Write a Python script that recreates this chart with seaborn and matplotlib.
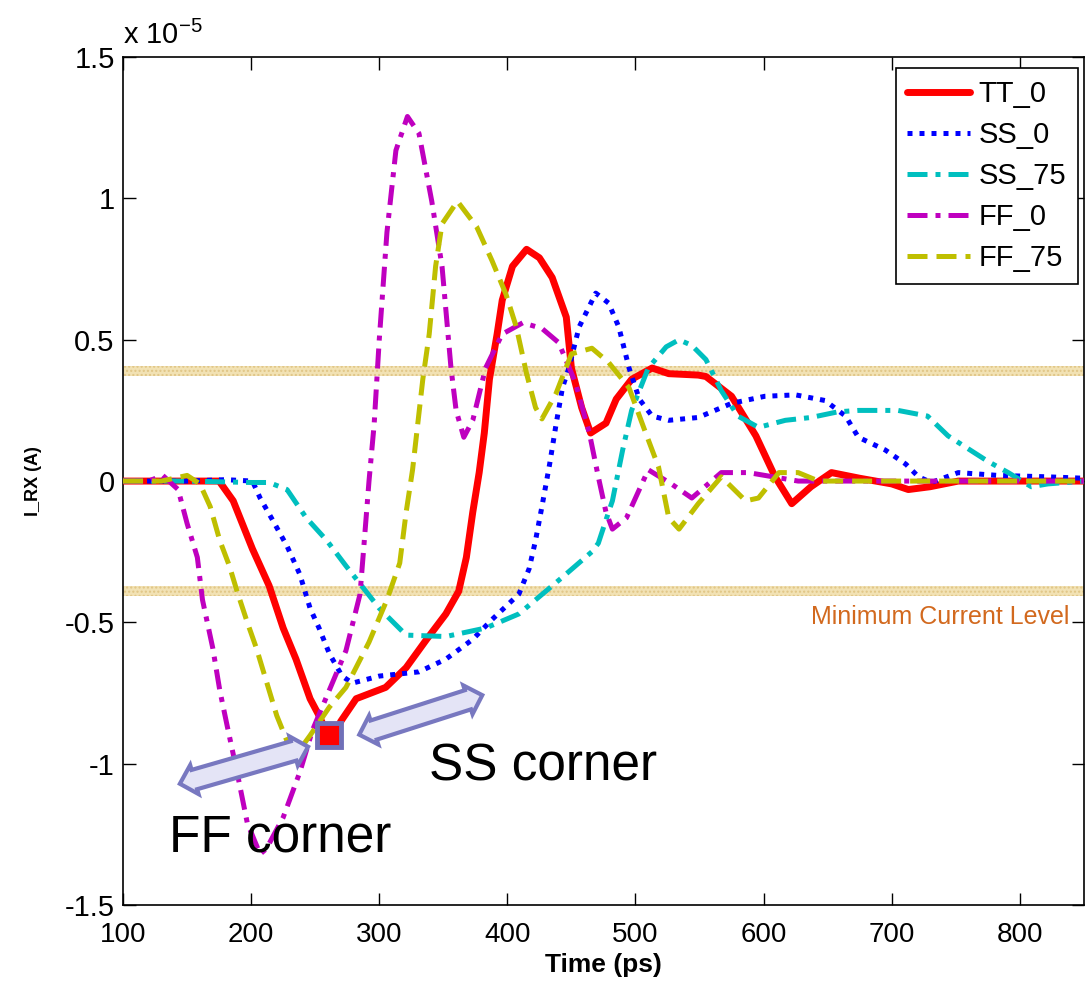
import numpy as np
import pandas as pd
import matplotlib
matplotlib.use("Agg")
import matplotlib.pyplot as plt
from matplotlib.ticker import FuncFormatter, MultipleLocator
import seaborn as sns

# ---------------- data (current in units of 1e-5 A) ----------------
tt0_x = [100, 130, 160, 175, 186, 201, 214, 225, 235, 246, 253, 262, 270, 282, 305, 321, 337, 352, 362, 368,
         373, 378, 382, 386, 392, 396, 404, 415, 425, 435, 446, 450, 458, 465, 477, 485, 497, 513, 526, 549,
         555, 575, 594, 609, 622, 637, 653, 675, 700, 713, 730, 752, 800, 850]
tt0_y = [0, 0, 0, 0, -0.07, -0.24, -0.37, -0.52, -0.63, -0.77, -0.83, -0.92, -0.85, -0.77, -0.73, -0.66, -0.56,
         -0.47, -0.39, -0.27, -0.11, 0.03, 0.17, 0.36, 0.52, 0.64, 0.76, 0.82, 0.79, 0.72, 0.58, 0.40, 0.26, 0.17,
         0.205, 0.29, 0.36, 0.40, 0.38, 0.375, 0.37, 0.30, 0.16, 0.015, -0.08, -0.02, 0.03, 0.01, -0.01, -0.03,
         -0.02, 0, 0, 0]

ss0_x = [100, 150, 180, 201, 207, 217, 228, 238, 246, 253, 261, 271, 279, 300, 331, 352, 373, 388, 409, 417,
         422, 427, 433, 438, 443, 448, 456, 469, 479, 487, 495, 503, 513, 526, 549, 575, 601, 625, 648, 664,
         674, 695, 711, 721, 731, 752, 783, 822, 850]
ss0_y = [0, 0, 0.005, 0, -0.06, -0.14, -0.23, -0.33, -0.45, -0.52, -0.61, -0.69, -0.715, -0.69, -0.675, -0.63,
         -0.56, -0.49, -0.40, -0.31, -0.21, -0.09, 0.06, 0.20, 0.33, 0.40, 0.545, 0.665, 0.63, 0.545, 0.40, 0.29,
         0.23, 0.215, 0.225, 0.275, 0.30, 0.305, 0.285, 0.23, 0.155, 0.11, 0.06, 0.015, -0.005, 0.03, 0.02,
         0.015, 0.01]

ss75_x = [100, 150, 200, 214, 228, 243, 259, 274, 300, 321, 352, 383, 409, 443, 466, 471, 479, 482, 490, 497,
          510, 524, 534, 544, 555, 567, 580, 596, 617, 637, 658, 674, 705, 728, 744, 775, 791, 809, 822, 850]
ss75_y = [0, 0, -0.005, -0.005, -0.03, -0.13, -0.21, -0.30, -0.45, -0.545, -0.55, -0.52, -0.47, -0.34, -0.25,
          -0.22, -0.11, -0.07, 0.11, 0.25, 0.40, 0.475, 0.50, 0.48, 0.43, 0.32, 0.23, 0.19, 0.215, 0.225, 0.245,
          0.25, 0.25, 0.23, 0.16, 0.07, 0.03, -0.02, -0.01, 0]

ff0_x = [100, 120, 131, 143, 150, 158, 162, 170, 175.5, 181, 189, 197, 207, 212, 225, 238, 248, 261, 274, 285,
         288, 292, 296, 300, 306, 313, 322, 331, 341, 349, 356, 360, 366, 373, 383, 396, 412, 427, 440, 453,
         464, 471, 477, 482, 493, 510, 528, 544, 567, 588, 627, 700, 850]
ff0_y = [0, 0, 0.02, -0.03, -0.15, -0.27, -0.42, -0.59, -0.74, -0.86, -1.03, -1.21, -1.32, -1.30, -1.19, -1.03,
         -0.88, -0.74, -0.60, -0.40, -0.23, 0, 0.2, 0.5, 0.88, 1.17, 1.29, 1.23, 0.99, 0.76, 0.40, 0.25, 0.155,
         0.215, 0.40, 0.52, 0.56, 0.54, 0.49, 0.35, 0.17, 0.015, -0.11, -0.17, -0.13, 0.04, -0.01, -0.06, 0.03,
         0.03, 0, 0, 0]

ff75_x = [100, 130, 150, 160, 168, 175.5, 183, 189, 197, 204, 212, 220, 228, 233, 238, 246, 261, 274, 292, 306,
          316, 321, 326, 331, 334, 339, 344, 349, 361, 376, 388, 399, 407, 415, 422, 427, 438, 450, 466, 479,
          495, 508, 518, 526, 534, 549, 567, 586, 596, 612, 627, 643, 700, 850]
ff75_y = [0, 0, 0.02, -0.01, -0.09, -0.21, -0.30, -0.39, -0.50, -0.59, -0.71, -0.83, -0.92, -0.96, -0.95, -0.90,
          -0.80, -0.73, -0.57, -0.42, -0.29, -0.11, 0.04, 0.24, 0.36, 0.52, 0.76, 0.91, 0.99, 0.90, 0.78, 0.66,
          0.545, 0.38, 0.26, 0.22, 0.31, 0.45, 0.47, 0.42, 0.33, 0.17, 0.05, -0.13, -0.17, -0.08, 0.015, -0.07,
          -0.06, 0.03, 0.03, 0, 0, 0]

series_names = ["TT_0", "SS_0", "SS_75", "FF_0", "FF_75"]
min_level = 0.39          # threshold level (1e-5 A)
tt_corner = (261, -0.90)  # highlighted TT corner point
scale = 1e-5

# ---------------- style ----------------
sns.set_theme(style="white")
plt.rcParams["font.family"] = ["Liberation Sans", "DejaVu Sans"]
plt.rcParams["mathtext.default"] = "regular"
for key in ("text.color", "axes.labelcolor", "xtick.color", "ytick.color", "axes.edgecolor"):
    plt.rcParams[key] = "black"

fig = plt.figure(figsize=(10.86, 9.85), dpi=100)
ax = fig.add_axes([0.1133, 0.0812, 0.8847, 0.8608])

# threshold bands
for lvl in (min_level, -min_level):
    ax.axhspan((lvl - 0.018) * scale, (lvl + 0.018) * scale, facecolor="#f2e2b4",
               edgecolor="#e0c585", hatch="....", lw=0, zorder=1)

styles = {
    "TT_0": dict(color="#ff0000", lw=5.0, ls="-"),
    "SS_0": dict(color="#0000ff", lw=3.6, ls=(0, (1.0, 1.4))),
    "SS_75": dict(color="#00bfbf", lw=3.6, ls=(0, (4.0, 1.6, 1.0, 1.6))),
    "FF_0": dict(color="#bf00bf", lw=3.6, ls=(0, (4.0, 1.6, 1.0, 1.6))),
    "FF_75": dict(color="#bfbf00", lw=3.6, ls=(0, (4.0, 1.8))),
}
data = {
    "TT_0": (tt0_x, tt0_y),
    "SS_0": (ss0_x, ss0_y),
    "SS_75": (ss75_x, ss75_y),
    "FF_0": (ff0_x, ff0_y),
    "FF_75": (ff75_x, ff75_y),
}
for name in series_names:
    xs, ys = data[name]
    df = pd.DataFrame({"t": xs, "i": np.array(ys) * scale})
    st = styles[name]
    sns.lineplot(data=df, x="t", y="i", ax=ax, color=st["color"], linewidth=st["lw"],
                 linestyle=st["ls"], label=name, sort=False, zorder=3)

# axes
ax.set_xlim(100, 850)
ax.set_ylim(-1.5 * scale, 1.5 * scale)
ax.xaxis.set_major_locator(MultipleLocator(100))
ax.yaxis.set_major_locator(MultipleLocator(0.5 * scale))
ax.yaxis.set_major_formatter(FuncFormatter(lambda v, p: f"{v / scale:g}"))
ax.tick_params(axis="both", which="major", direction="in", length=9, width=1, color="black",
               top=True, right=True, bottom=True, left=True)
ax.tick_params(axis="y", labelsize=21, pad=6)
ax.tick_params(axis="x", labelsize=20, pad=12)
for sp in ax.spines.values():
    sp.set_color("black")
    sp.set_linewidth(1.2)
ax.set_xlabel("Time (ps)", fontsize=19, fontweight="bold", labelpad=4)
ax.set_ylabel("I_RX (A)", fontsize=13, fontweight="bold", labelpad=16)
ax.text(0.0, 1.008, "x 10$^{-5}$", transform=ax.transAxes, fontsize=21, ha="left", va="bottom")

# legend
leg = ax.legend(loc="upper right", bbox_to_anchor=(0.994, 0.987), borderaxespad=0, fontsize=21,
                handlelength=2.15, handletextpad=0.3, labelspacing=0.45, borderpad=0.4,
                frameon=True, fancybox=False, framealpha=1, edgecolor="black")
leg.get_frame().set_linewidth(1.2)

# annotations
ax.text(839, -0.481 * scale, "Minimum Current Level", color="#d2691e", fontsize=18,
        ha="right", va="center", zorder=4)
ax.text(428, -1.01 * scale, "SS corner", fontsize=37, ha="center", va="center", zorder=4)
ax.text(223, -1.263 * scale, "FF corner", fontsize=37, ha="center", va="center", zorder=4)

arrow_box = dict(boxstyle="darrow,pad=0.2", fc="#e4e4f6", ec="#7878c0", lw=3)
ax.text(332, -0.828 * scale, " " * 25, fontsize=11, rotation=17.8, rotation_mode="anchor",
        ha="center", va="center", bbox=arrow_box, zorder=5)
ax.text(194, -1.006 * scale, " " * 26, fontsize=11, rotation=16.1, rotation_mode="anchor",
        ha="center", va="center", bbox=arrow_box, zorder=5)

ax.plot([tt_corner[0]], [tt_corner[1] * scale], marker="s", markersize=17, color="#ff0000",
        markeredgecolor="#7070b8", markeredgewidth=3.5, zorder=6, linestyle="none")

fig.savefig("out.png", dpi=100)
